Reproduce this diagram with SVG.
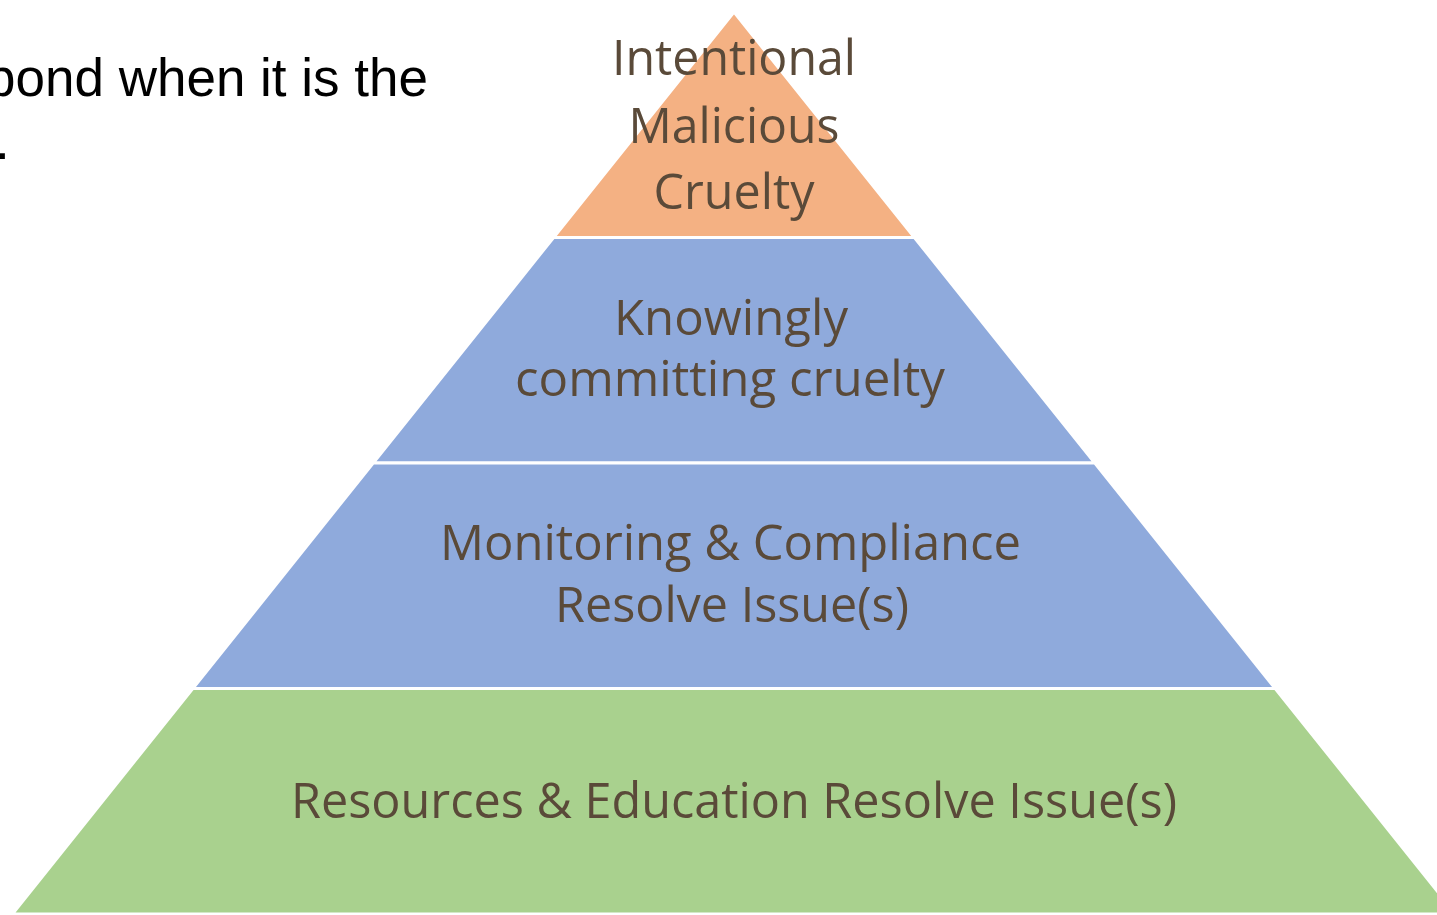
<svg xmlns="http://www.w3.org/2000/svg" width="1437" height="915" viewBox="0 0 1437 915">
<style>
.layer{stroke:#ffffff;stroke-width:3;stroke-linejoin:miter}
.lbl{font-family:"Open Sans","Noto Sans","Liberation Sans",sans-serif;font-size:49px;fill:#5a4a39}
.side{font-family:"Liberation Sans",Arial,sans-serif;font-size:53px;fill:#000000}
</style>
<rect width="1437" height="915" fill="#ffffff"/>
<g id="side-text">
<text class="side" x="428" y="96" text-anchor="end">pond when it is the</text>
<text class="side" x="-5" y="159">.</text>
</g>
<g id="connectors"></g>
<g id="layer1">
<polygon class="layer" fill="#F4B183" points="734,12 914.4,237.5 553.6,237.5"/>
<text class="lbl" x="734" y="75" text-anchor="middle" textLength="244" lengthAdjust="spacingAndGlyphs">Intentional</text>
<text class="lbl" x="734" y="143" text-anchor="middle" textLength="211" lengthAdjust="spacingAndGlyphs">Malicious</text>
<text class="lbl" x="734" y="209" text-anchor="middle" textLength="161" lengthAdjust="spacingAndGlyphs">Cruelty</text>
</g>
<g id="layer2">
<polygon class="layer" fill="#8FAADC" points="553.6,237.5 914.4,237.5 1094.8,463 373.2,463"/>
<text class="lbl" x="731" y="335" text-anchor="middle" textLength="234" lengthAdjust="spacingAndGlyphs">Knowingly</text>
<text class="lbl" x="730" y="396" text-anchor="middle" textLength="430" lengthAdjust="spacingAndGlyphs">committing cruelty</text>
</g>
<g id="layer3">
<polygon class="layer" fill="#8FAADC" points="373.2,463 1094.8,463 1275.2,688.5 192.8,688.5"/>
<text class="lbl" x="730.5" y="560" text-anchor="middle" textLength="581" lengthAdjust="spacingAndGlyphs">Monitoring &amp; Compliance</text>
<text class="lbl" x="732" y="622" text-anchor="middle" textLength="354" lengthAdjust="spacingAndGlyphs">Resolve Issue(s)</text>
</g>
<g id="layer4">
<polygon class="layer" fill="#A9D18E" points="192.8,688.5 1275.2,688.5 1455.6,914 12.4,914"/>
<text class="lbl" x="734" y="818" text-anchor="middle" textLength="886" lengthAdjust="spacingAndGlyphs">Resources &amp; Education Resolve Issue(s)</text>
</g>
</svg>
